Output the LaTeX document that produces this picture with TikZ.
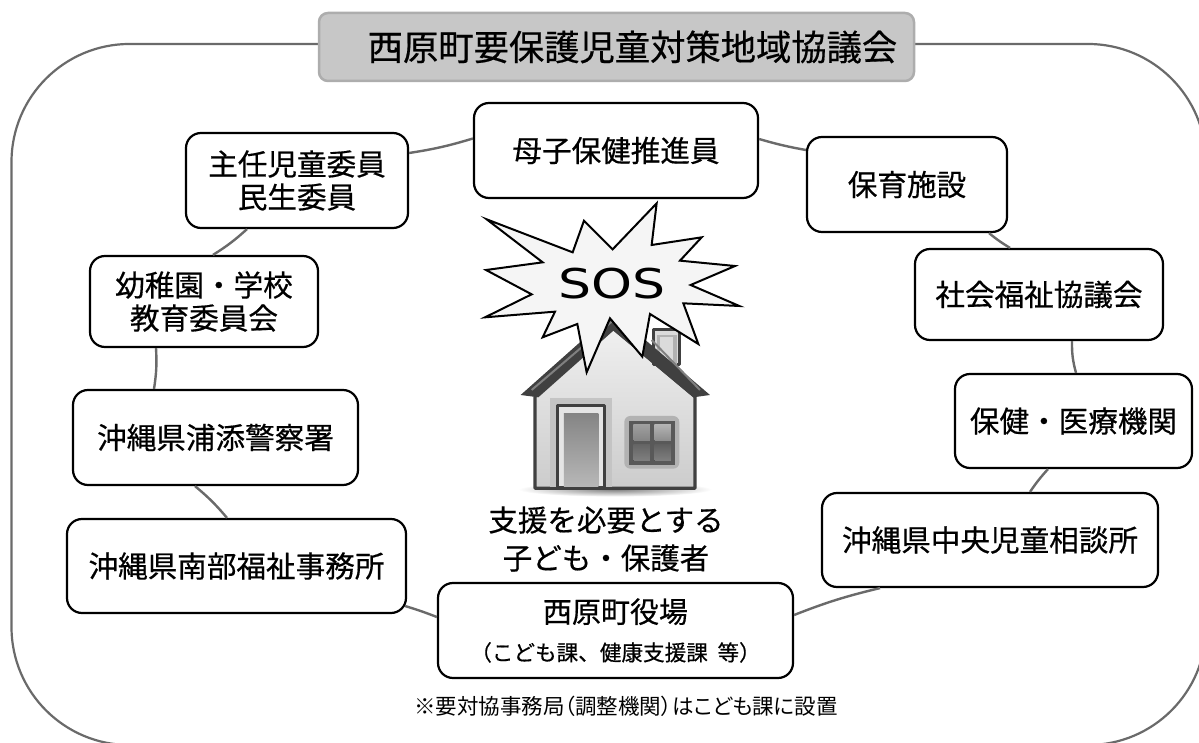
\documentclass[tikz,border=0pt]{standalone}
\usepackage{fontspec}
\setmainfont[FakeBold=0.5]{Noto Sans CJK JP}
\newfontfamily\paltfont[RawFeature=+palt]{Noto Sans CJK JP}
\newfontfamily\sosfont{DejaVu Sans}
\usetikzlibrary{calc}
\definecolor{ringgray}{HTML}{6A6A6A}
\definecolor{housedark}{HTML}{404040}
\tikzset{
  box/.style={draw=black,line width=2.2pt,rounded corners=15pt,fill=white,align=center,inner sep=0pt,
    font=\fontsize{29.6pt}{33pt}\selectfont},
  link/.style={draw=ringgray,line width=2.4pt},
  ring/.style={draw=ringgray,line width=2.2pt,rounded corners=118pt},
  titlebox/.style={draw=black!32,line width=2.5pt,rounded corners=9pt,fill=black!22,inner sep=0pt,
    font=\fontsize{35.3pt}{40pt}\selectfont},
  caption/.style={align=center,inner sep=0pt,font=\fontsize{29.5pt}{38pt}\selectfont},
  burst/.style={draw=black,line width=2pt,fill=black!4,line join=miter},
  hline/.style={draw=housedark,line width=3pt,line join=round},
}
\begin{document}
\begin{tikzpicture}[x=1pt,y=-1pt]
\useasboundingbox (0,0) rectangle (1199,743);
\clip (0,0) rectangle (1199,743);
\fill[white] (0,0) rectangle (1199,743);
% outer ring
\draw[ring] (11.5,44) rectangle (1206,745);
% house (zoom coordinates, 1/3 scale)
\begin{scope}[shift={(480,200)},x=0.3333pt,y=-0.3333pt]
  \shade[inner color=black!50,outer color=white] (405,868) ellipse (290 and 22);
  \draw[draw=housedark,line width=3.2pt,top color=black!6,bottom color=black!20,line join=round]
    (400,385) -- (645,590) -- (645,865) -- (165,865) -- (165,590) -- cycle;
  \draw[hline,fill=black!14] (520,388) rectangle (600,495);
  \fill[black!30] (532,405) rectangle (590,495);
  \fill[black!14] (540,410) rectangle (578,480);
  \fill[housedark,line join=round] (122,585) -- (392,345) -- (408,345) -- (690,585) -- (640,592) -- (400,392) -- (175,592) -- cycle;
  \draw[black!50,line width=2pt] (155,570) -- (395,365);
  \draw[black!50,line width=2pt] (515,420) -- (660,570);
  \fill[black!23] (210,595) rectangle (397,860);
  \draw[hline,fill=black!10] (232,618) rectangle (375,862);
  \fill[top color=black!48,bottom color=black!28] (252,640) rectangle (355,860);
  \fill[black!30,rounded corners=6pt] (433,648) rectangle (598,806);
  \fill[black!65] (448,663) rectangle (584,794);
  \fill[top color=black!38,bottom color=black!48] (460,675) rectangle (510,722);
  \fill[top color=black!30,bottom color=black!45] (523,675) rectangle (573,722);
  \fill[top color=black!60,bottom color=black!50] (460,735) rectangle (510,782);
  \fill[top color=black!62,bottom color=black!50] (523,735) rectangle (573,782);
  % burst
  \draw[burst] (20,58) -- (278,157) -- (312,62) -- (398,148) -- (530,10) -- (515,135) -- (665,112) -- (600,182)
    -- (765,198) -- (632,255) -- (778,318) -- (610,310) -- (655,432) -- (510,342) -- (487,470) -- (390,355)
    -- (320,517) -- (292,372) -- (188,412) -- (225,335) -- (15,352) -- (155,283) -- (18,210) -- (188,187) -- cycle;
\end{scope}
\node[inner sep=0pt,xscale=1.27,font=\fontsize{41pt}{41pt}\sosfont] (sos) at (612,284) {SOS};
% title
\node[titlebox,minimum width=595pt,minimum height=68pt] (title) at (616.5,47) {\hspace*{32pt}西原町要保護児童対策地域協議会};
% organisation boxes
\node[box,minimum width=284pt,minimum height=95pt] (mo) at (616,150.5) {母子保健推進員};
\node[box,minimum width=222pt,minimum height=95pt] (zhu) at (297,180.5) {主任児童委員\\民生委員};
\node[box,minimum width=200pt,minimum height=95pt] (ho) at (907,184.5) {保育施設};
\node[box,minimum width=228pt,minimum height=91pt] (yo) at (204,301.5) {幼稚園・学校\\教育委員会};
\node[box,minimum width=248pt,minimum height=91pt] (sha) at (1039,294.5) {社会福祉協議会};
\node[box,minimum width=285pt,minimum height=95pt] (ura) at (215.5,437.5) {沖縄県浦添警察署};
\node[box,minimum width=237pt,minimum height=94pt] (hk) at (1073.5,421) {保健・医療機関};
\node[box,minimum width=339pt,minimum height=94pt] (nan) at (236.5,566) {沖縄県南部福祉事務所};
\node[box,minimum width=336pt,minimum height=94pt] (chu) at (990,540) {沖縄県中央児童相談所};
\node[box,minimum width=355pt,minimum height=95pt,font=\fontsize{29pt}{40pt}\selectfont] (ni) at (615.5,630.5)
  {西原町役場\\[-2pt]{\fontsize{21.6pt}{24pt}\selectfont （こども課、健康支援課\ \ 等）}};
% captions
\node[caption] (cap) at (606,539) {支援を必要とする\\子ども・保護者};
\node[inner sep=0pt,font=\fontsize{21.5pt}{24pt}\paltfont] (note) at (626,706) {※要対協事務局（調整機関）はこども課に設置};
% connectors
\draw[link] ([yshift=12pt]mo.west) to[bend left=4] ([yshift=27.5pt]zhu.east);
\draw[link] ([yshift=11.5pt]mo.east) to[bend right=3] ([yshift=34.5pt]ho.west);
\draw[link] ([xshift=82pt]ho.south) to[bend right=4] ([xshift=-29pt]sha.north);
\draw[link] ([xshift=33pt]sha.south) to[bend right=8] ([xshift=2.5pt]hk.north);
\draw[link] ([xshift=-25.5pt]hk.south) to[bend right=4] ([xshift=40pt]chu.north);
\draw[link] ([xshift=-110pt]chu.south) to[bend right=4] ([yshift=15.5pt]ni.east);
\draw[link] ([yshift=13.5pt]ni.west) to[bend right=2] ([xshift=-2pt,yshift=-40pt]nan.east);
\draw[link] ([xshift=-9.5pt]nan.north) to[bend right=5] ([xshift=-20.5pt]ura.south);
\draw[link] ([xshift=-61.5pt]ura.north) to[bend right=6] ([xshift=-48pt]yo.south);
\draw[link] ([xshift=9pt]yo.north) to[bend right=5] ([xshift=-50pt]zhu.south);
\end{tikzpicture}
\end{document}
